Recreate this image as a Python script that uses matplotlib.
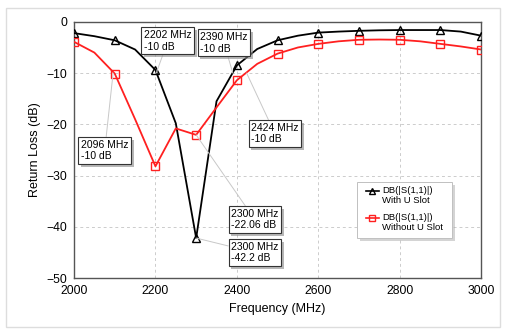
import numpy as np
import matplotlib
matplotlib.use("Agg")
import matplotlib.pyplot as plt
import matplotlib.patheffects as pe
from matplotlib.patches import Rectangle

plt.rcParams['font.family'] = ['Liberation Sans', 'DejaVu Sans']

# frequency points (MHz), markers every 100 MHz
freq = [2000, 2050, 2100, 2150, 2200, 2250, 2300, 2350, 2400, 2450, 2500,
        2550, 2600, 2650, 2700, 2750, 2800, 2850, 2900, 2950, 3000]
with_slot = [-2.2, -2.8, -3.6, -5.4, -9.4, -19.8, -42.2, -15.5, -8.5, -5.3, -3.6,
             -2.7, -2.1, -1.9, -1.75, -1.65, -1.6, -1.6, -1.6, -1.9, -2.7]
without_slot = [-3.9, -6.0, -10.1, -19.0, -28.2, -20.8, -22.06, -16.7, -11.4, -8.2, -6.2,
                -5.0, -4.3, -3.8, -3.5, -3.45, -3.5, -3.8, -4.3, -4.8, -5.4]
series_names = [('DB(|S(1,1)|)', 'With U Slot'), ('DB(|S(1,1)|)', 'Without U Slot')]

# marker annotations: (point x, point y, text x, text y, label)
notes = [
    (2202, -10, 2172, -1.6, '2202 MHz\n-10 dB'),
    (2390, -10, 2310, -2.0, '2390 MHz\n-10 dB'),
    (2096, -10, 2017, -23.0, '2096 MHz\n-10 dB'),
    (2424, -10, 2435, -19.7, '2424 MHz\n-10 dB'),
    (2300, -22.06, 2386, -36.5, '2300 MHz\n-22.06 dB'),
    (2300, -42.2, 2386, -42.9, '2300 MHz\n-42.2 dB'),
]

fig = plt.figure(figsize=(5.07, 3.31), dpi=100)
fig.patches.append(Rectangle((0.012, 0.012), 0.975, 0.965, transform=fig.transFigure,
                             fill=False, edgecolor='#dddddd', lw=1))
ax = fig.add_axes([0.146, 0.160, 0.803, 0.774])

styles = [dict(color='black', marker='^'), dict(color='#ff2020', marker='s')]
for ys, st in zip([with_slot, without_slot], styles):
    ax.plot(freq, ys, color=st['color'], lw=1.3, marker=st['marker'], markevery=2, ms=6,
            mfc='none', mec=st['color'], mew=1.0, zorder=3)

shadow = [pe.withSimplePatchShadow(offset=(2, -2), shadow_rgbFace='#888888', alpha=0.6)]
for px, py, tx, ty, lab in notes:
    t = ax.annotate(lab, xy=(px, py), xytext=(tx, ty), ha='left', va='top', fontsize=7.5,
                    bbox=dict(boxstyle='square,pad=0.25', fc='white', ec='#333333', lw=0.8),
                    arrowprops=dict(arrowstyle='-', color='#c8c8c8', lw=0.7,
                                    shrinkA=0, shrinkB=0), zorder=4)
    t.get_bbox_patch().set_path_effects(shadow)

ax.set_xlim(2000, 3000)
ax.set_ylim(-50, 0)
ax.set_xticks(np.arange(2000, 3001, 200))
ax.set_yticks(np.arange(-50, 1, 10))
ax.tick_params(length=0, labelsize=8.7, pad=5)
ax.grid(True, color='#cccccc', linestyle=(0, (3, 3)), lw=0.7)
for s in ax.spines.values():
    s.set_color('#555555')
    s.set_linewidth(1.0)
ax.set_xlabel('Frequency (MHz)', fontsize=9)
ax.set_ylabel('Return Loss (dB)', fontsize=9)

# legend drawn by hand: handle beside the first text line
box = Rectangle((0.695, 0.156), 0.234, 0.219, transform=ax.transAxes, fc='white',
                ec='#c0c0c0', lw=0.7, zorder=5)
box.set_path_effects([pe.withSimplePatchShadow(offset=(2, -2), shadow_rgbFace='#aaaaaa', alpha=0.5)])
ax.add_patch(box)
for i, (st, (l1, l2)) in enumerate(zip(styles, series_names)):
    y1 = 0.340 - i * 0.105
    ax.plot([0.717, 0.749], [y1, y1], transform=ax.transAxes, color=st['color'], lw=1.2, zorder=6)
    ax.plot([0.733], [y1], transform=ax.transAxes, color=st['color'], marker=st['marker'],
            ms=5, mfc='none', mew=1.0, zorder=6)
    ax.text(0.757, y1, l1, transform=ax.transAxes, fontsize=6.8, va='center', ha='left', zorder=6)
    ax.text(0.757, y1 - 0.036, l2, transform=ax.transAxes, fontsize=6.8, va='center', ha='left', zorder=6)

fig.savefig('out.png', dpi=100)
